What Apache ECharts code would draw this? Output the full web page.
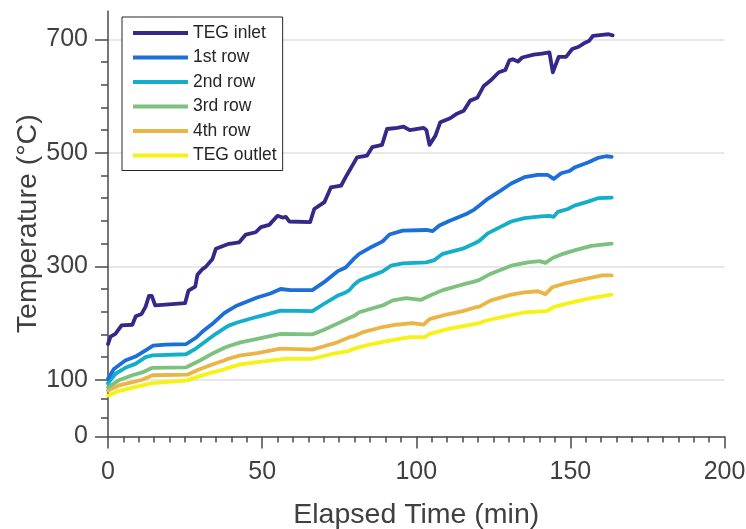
<!DOCTYPE html>
<html>
<head>
<meta charset="utf-8">
<title>TEG temperatures</title>
<script src="https://cdn.jsdelivr.net/npm/echarts@6/dist/echarts.min.js"></script>
<style>
  html, body { margin: 0; padding: 0; background: #ffffff; }
  #chart { width: 746px; height: 529px; }
</style>
</head>
<body>
<div id="chart"></div>
<script>
// Series names (legend order)
const seriesNames = ['TEG inlet', '1st row', '2nd row', '3rd row', '4th row', 'TEG outlet'];

// Elapsed time (min) and temperature (°C) samples per measurement point
const inletTime = [0, 0.8, 2.4, 4.4, 7.9, 9.0, 10.9, 12.2, 13.3, 14.2, 15.3, 17.6, 25.0, 26.1, 28.3, 29.0, 30.6, 31.7, 33.9, 35.0, 38.8, 42.5, 44.7, 47.9, 49.6, 52.3, 55.0, 56.6, 57.7, 58.8, 65.6, 66.9, 70.2, 72.3, 75.6, 77.5, 80.8, 84.0, 85.7, 88.9, 90.5, 93.8, 95.9, 97.9, 102.4, 103.3, 104.3, 106.2, 107.8, 111.0, 113.2, 115.4, 117.5, 119.8, 121.9, 124.0, 126.8, 128.9, 130.2, 131.3, 133.0, 134.4, 138.1, 140.8, 143.2, 144.3, 146.2, 148.6, 150.6, 152.7, 154.4, 156.0, 157.3, 160.3, 162.4, 163.7];
const inletTemp = [163, 176, 181, 196, 197, 212, 216, 229, 248, 248, 231, 232, 235, 257, 264, 285, 295, 299, 313, 331, 339, 342, 356, 360, 369, 373, 389, 386, 387, 379, 378, 401, 413, 439, 442, 461, 492, 495, 510, 514, 542, 544, 546, 540, 544, 540, 514, 530, 554, 561, 569, 574, 592, 597, 618, 627, 642, 646, 663, 665, 661, 668, 673, 675, 677, 642, 669, 669, 683, 687, 693, 697, 706, 708, 709, 707];

const row1Time = [0, 1.9, 5.6, 8.9, 12.2, 14.6, 18.7, 25.4, 28.5, 31.1, 34.4, 37.6, 39.0, 41.9, 48.4, 52.7, 56.0, 59.2, 66.3, 70.1, 74.4, 77.1, 79.9, 81.5, 85.8, 89.1, 91.3, 95.6, 103.2, 105.3, 107.5, 110.7, 116.2, 118.8, 120.5, 123.2, 127.5, 130.8, 135.1, 139.4, 142.7, 144.6, 147.0, 149.7, 151.3, 155.7, 158.9, 161.6, 163.4];
const row1Temp = [102, 119, 134, 141, 152, 160, 162, 163, 174, 187, 201, 217, 222, 231, 245, 252, 260, 258, 258, 272, 291, 298, 314, 322, 335, 344, 356, 363, 364, 362, 372, 380, 392, 400, 407, 419, 434, 446, 457, 461, 461, 454, 464, 468, 474, 483, 491, 494, 493];

const row2Time = [0, 2.5, 5.6, 8.9, 12.2, 14.4, 25.3, 28.5, 31.7, 35.0, 37.6, 39.0, 41.9, 48.4, 52.7, 56.0, 66.3, 70.1, 74.4, 77.1, 78.3, 79.9, 81.5, 85.8, 89.1, 91.8, 95.6, 103.2, 105.9, 108.6, 115.1, 118.8, 120.5, 123.2, 127.5, 130.8, 135.1, 140.5, 143.2, 144.6, 145.9, 149.2, 151.3, 155.7, 158.9, 163.4];
const row2Temp = [94, 111, 121, 128, 140, 143, 145, 155, 168, 181, 190, 195, 201, 211, 217, 222, 221, 234, 248, 254, 258, 268, 275, 284, 291, 301, 305, 307, 311, 322, 331, 340, 345, 358, 370, 379, 385, 388, 389, 387, 396, 401, 407, 414, 420, 421];

const row3Time = [0, 3.5, 7.9, 11.1, 14.4, 25.4, 29.5, 33.8, 37.6, 39.0, 43.0, 48.4, 56.0, 66.3, 70.1, 74.4, 78.3, 79.9, 81.5, 89.1, 92.4, 96.7, 101.6, 104.3, 108.6, 115.1, 118.8, 120.5, 124.2, 130.8, 136.2, 140.0, 141.9, 144.4, 147.1, 151.3, 156.8, 163.4];
const row3Temp = [87, 99, 108, 113, 121, 122, 133, 146, 156, 159, 166, 172, 181, 180, 188, 199, 209, 213, 219, 231, 240, 244, 241, 248, 258, 268, 273, 276, 287, 301, 307, 309, 306, 315, 321, 328, 336, 340];

const row4Time = [0, 3.5, 7.9, 11.1, 14.4, 25.7, 29.5, 33.8, 37.6, 39.0, 43.0, 48.4, 56.0, 66.3, 70.1, 74.4, 78.3, 79.9, 82.8, 89.1, 93.5, 98.8, 102.4, 104.3, 109.8, 115.1, 118.8, 120.5, 124.2, 130.8, 135.1, 139.4, 141.9, 144.1, 148.3, 154.9, 160.3, 163.4];
const row4Temp = [81, 90, 96, 100, 108, 109, 118, 127, 134, 137, 143, 147, 155, 153, 159, 166, 175, 177, 184, 193, 197, 200, 197, 207, 215, 221, 227, 229, 240, 250, 254, 256, 251, 263, 270, 278, 284, 284];

const outletTime = [0, 3.5, 7.9, 14.4, 25.7, 29.5, 33.8, 37.6, 39.0, 43.0, 48.4, 57.4, 66.3, 72.3, 78.3, 79.9, 84.8, 91.3, 97.8, 102.7, 104.3, 110.8, 120.5, 122.4, 130.0, 135.4, 142.4, 144.5, 149.4, 155.9, 163.4];
const outletTemp = [72, 80, 86, 94, 99, 106, 113, 118, 121, 127, 131, 137, 137, 145, 151, 155, 162, 169, 175, 175, 181, 190, 200, 204, 213, 219, 221, 228, 235, 243, 250];

// Axis ticks
const yMajorTicks = [0, 100, 300, 500, 700];
const yMinorTicks = [33.3, 66.7, 140, 180, 220, 260, 340, 380, 420, 460, 540, 580, 620, 660];

const seriesColors = ['#33298a', '#1c6ed8', '#13aec9', '#7cc17e', '#ebb447', '#f6f214'];

const FONT = '"Liberation Sans", Arial, Helvetica, sans-serif';
const AXIS_COLOR = '#4a4a4a';
const TEXT_COLOR = '#404040';

function pairs(times, temps) {
  return times.map((t, i) => [t, temps[i]]);
}

const seriesData = [
  pairs(inletTime, inletTemp),
  pairs(row1Time, row1Temp),
  pairs(row2Time, row2Temp),
  pairs(row3Time, row3Temp),
  pairs(row4Time, row4Temp),
  pairs(outletTime, outletTemp)
];

const chart = echarts.init(document.getElementById('chart'), null, { renderer: 'canvas' });

chart.setOption({
  backgroundColor: '#ffffff',
  animation: false,
  textStyle: { fontFamily: FONT },
  grid: {
    left: 108, top: 11, width: 616.5, height: 425.5,
    containLabel: false,
    outerBoundsMode: 'none'
  },
  legend: {
    orient: 'vertical',
    left: 122,
    top: 17,
    padding: [7, 6, 6, 11],
    itemWidth: 55,
    itemHeight: 4,
    itemGap: 6.5,
    icon: 'rect',
    borderColor: '#262626',
    borderWidth: 1,
    backgroundColor: '#ffffff',
    textStyle: { fontSize: 17.5, color: '#262626', fontFamily: FONT },
    data: seriesNames
  },
  xAxis: {
    type: 'value',
    min: 0,
    max: 200,
    interval: 50,
    name: 'Elapsed Time (min)',
    nameLocation: 'middle',
    nameGap: 64,
    nameMoveOverlap: false,
    nameTextStyle: { fontSize: 28.5, color: TEXT_COLOR, fontFamily: FONT },
    axisLine: { show: true, lineStyle: { color: AXIS_COLOR, width: 1.5 } },
    axisTick: { show: true, inside: false, length: 12, lineStyle: { color: AXIS_COLOR, width: 1.5 } },
    minorTick: { show: true, splitNumber: 10, length: 6, lineStyle: { color: AXIS_COLOR, width: 1.5 } },
    axisLabel: { fontSize: 25, color: TEXT_COLOR, margin: 23, fontFamily: FONT },
    splitLine: { show: false },
    minorSplitLine: { show: false }
  },
  yAxis: [
    {
      type: 'value',
      min: 0,
      max: 750,
      name: 'Temperature (°C)',
      nameLocation: 'middle',
      nameGap: 65,
      nameMoveOverlap: false,
      nameTextStyle: { fontSize: 28.5, color: TEXT_COLOR, fontFamily: FONT },
      axisLine: { show: true, lineStyle: { color: AXIS_COLOR, width: 1.5 } },
      axisTick: { show: true, inside: false, length: 13, customValues: yMajorTicks, lineStyle: { color: AXIS_COLOR, width: 1.5 } },
      axisLabel: { fontSize: 25, color: TEXT_COLOR, margin: 20, customValues: yMajorTicks, fontFamily: FONT },
      splitLine: { show: true, lineStyle: { color: '#e0e0e0', width: 1.5 } }
    },
    {
      // minor ticks on the temperature axis
      type: 'value',
      min: 0,
      max: 750,
      position: 'left',
      axisLine: { show: false },
      axisTick: { show: true, inside: false, length: 7, customValues: yMinorTicks, lineStyle: { color: AXIS_COLOR, width: 1.5 } },
      axisLabel: { show: false },
      splitLine: { show: false }
    }
  ],
  series: seriesNames.map((name, i) => ({
    name: name,
    type: 'line',
    data: seriesData[i],
    xAxisIndex: 0,
    yAxisIndex: 0,
    showSymbol: false,
    symbol: 'none',
    smooth: false,
    color: seriesColors[i],
    lineStyle: { width: 3.8, color: seriesColors[i], join: 'round', cap: 'round' },
    z: 10 - i
  }))
});
</script>
</body>
</html>
